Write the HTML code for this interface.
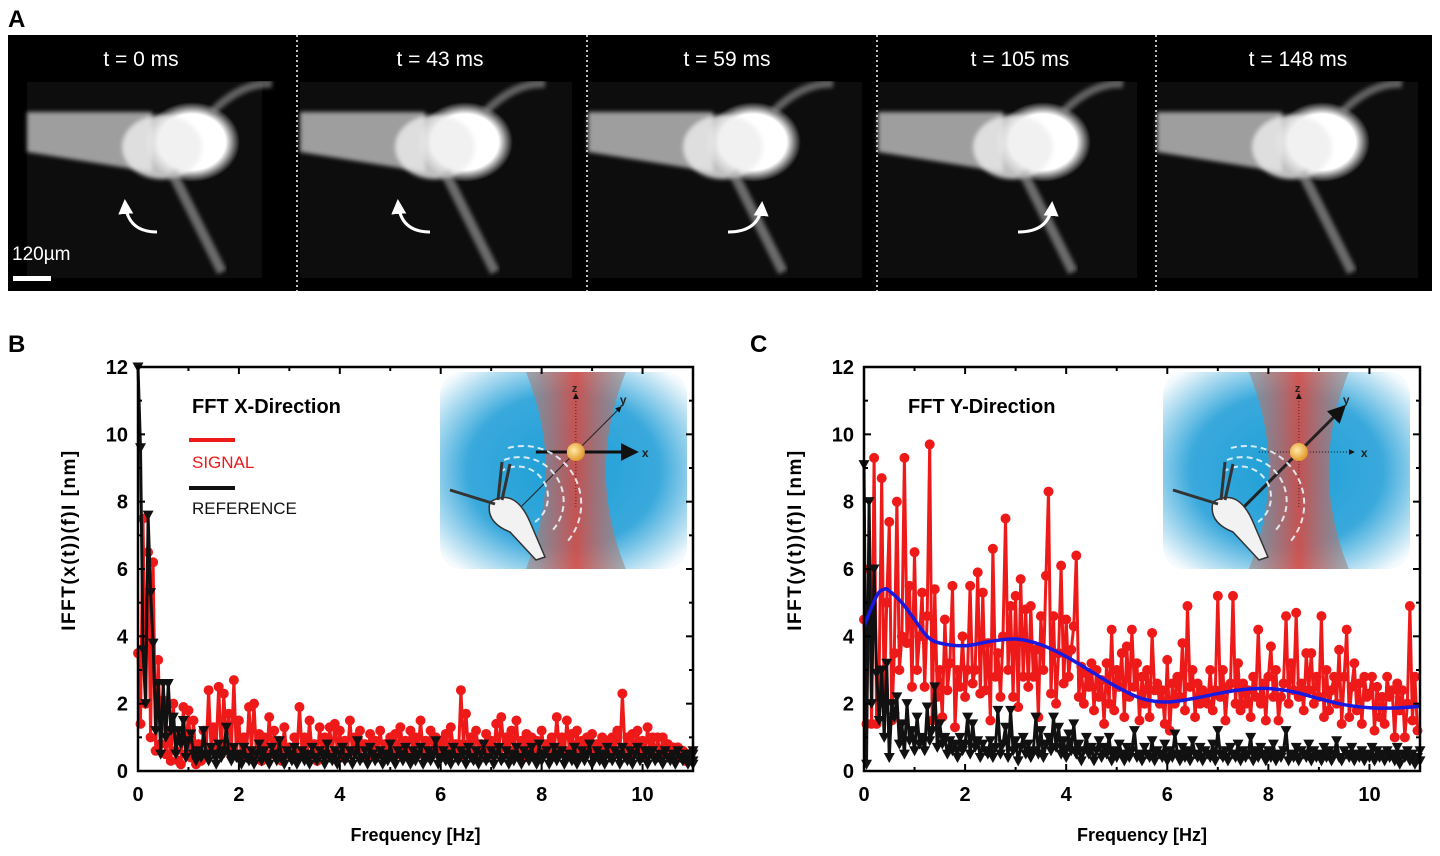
<!DOCTYPE html>
<html><head><meta charset="utf-8">
<style>
html,body{margin:0;padding:0;background:#fff;}
svg{display:block;font-family:"Liberation Sans",Arial,sans-serif;}
</style></head>
<body>
<svg id="fig" width="1440" height="856" viewBox="0 0 1440 856">
<defs>
  <radialGradient id="water" cx="50%" cy="50%" r="65%">
    <stop offset="0" stop-color="#1c9fd6"/><stop offset="0.6" stop-color="#3aa9dc"/><stop offset="1" stop-color="#f4fafd"/>
  </radialGradient>
  <linearGradient id="beam" x1="0" y1="0" x2="1" y2="0">
    <stop offset="0" stop-color="#9a8a88" stop-opacity="0.7"/><stop offset="0.5" stop-color="#e0443a"/><stop offset="1" stop-color="#9a8a88" stop-opacity="0.7"/>
  </linearGradient>
  <radialGradient id="bead" cx="40%" cy="40%" r="60%"><stop offset="0" stop-color="#ffe9a8"/><stop offset="1" stop-color="#e29a2a"/></radialGradient>
  <radialGradient id="glow" cx="50%" cy="50%" r="50%"><stop offset="0" stop-color="#fff"/><stop offset="0.7" stop-color="#fff"/><stop offset="1" stop-color="#fff" stop-opacity="0"/></radialGradient>
  <filter id="blur2"><feGaussianBlur stdDeviation="2"/></filter>
  <marker id="ah" markerWidth="6" markerHeight="6" refX="5" refY="3" orient="auto"><path d="M0,0 L6,3 L0,6z" fill="#111"/></marker>
  <marker id="ahw" markerWidth="5" markerHeight="5" refX="4" refY="2.5" orient="auto"><path d="M0,0 L5,2.5 L0,5z" fill="#fff"/></marker>
</defs>

<text x="8" y="27" font-size="24" font-weight="bold">A</text>
<rect x="8" y="35" width="1424" height="256" fill="#000"/>
<g id="frames"></g>

<text x="8" y="352" font-size="24" font-weight="bold">B</text>
<g id="chartB"></g>
<text x="750" y="352" font-size="24" font-weight="bold">C</text>
<g id="chartC"></g>
</svg>

<script>
const NS="http://www.w3.org/2000/svg";
function mk(tag,attrs,parent){const e=document.createElementNS(NS,tag);for(const k in attrs)e.setAttribute(k,attrs[k]);if(parent)parent.appendChild(e);return e;}

const DF = 0.05;
const xTicks=[0,2,4,6,8,10];
const yTicks=[0,2,4,6,8,10,12];
const frameLabels=["t = 0 ms","t = 43 ms","t = 59 ms","t = 105 ms","t = 148 ms"];

const signalX=[3.5,1.4,7.5,2.0,6.5,1.0,6.2,0.6,3.3,0.8,2.1,0.5,1.2,0.3,2.0,0.6,0.3,0.2,1.9,0.5,1.8,0.4,1.5,0.2,0.8,0.3,1.2,0.5,2.4,0.6,1.3,0.7,2.5,0.5,2.3,0.8,1.7,0.6,2.7,0.5,1.5,0.4,1.0,0.5,1.9,0.6,2.0,0.4,1.1,0.3,1.0,0.4,1.6,0.5,1.2,0.6,0.9,0.3,1.3,0.5,0.7,0.4,1.0,0.5,1.9,0.6,1.0,0.4,1.5,0.5,0.8,0.3,1.3,0.6,1.0,0.4,1.3,0.5,1.4,0.6,1.2,0.4,0.9,0.5,1.5,0.6,1.0,0.5,1.2,0.7,0.8,0.4,1.1,0.5,0.9,0.6,1.2,0.5,0.8,0.4,1.0,0.6,1.1,0.5,1.3,0.7,0.9,0.5,1.2,0.6,1.0,0.5,1.5,0.6,0.9,0.4,1.2,0.6,1.0,0.5,0.9,0.6,1.1,0.5,1.3,0.7,0.8,0.4,2.4,0.8,1.7,0.6,1.0,0.5,1.2,0.6,0.8,0.4,1.1,0.6,0.9,0.5,1.4,0.6,1.6,0.7,1.0,0.5,1.2,0.6,1.5,0.5,0.9,0.4,1.1,0.6,1.0,0.5,0.9,0.4,1.2,0.6,0.8,0.5,1.0,0.6,1.6,0.7,1.0,0.5,1.5,0.6,1.1,0.5,1.2,0.6,0.9,0.5,1.0,0.6,1.1,0.5,0.8,0.4,1.0,0.6,0.9,0.5,1.0,0.6,1.2,0.5,2.3,0.7,1.0,0.5,1.1,0.6,1.2,0.5,0.9,0.4,1.3,0.6,1.0,0.5,1.0,0.4,1.0,0.5,0.8,0.4,0.7,0.5,0.7,0.4,0.6,0.3,0.5,0.4];
const referenceX=[12,9.6,3.6,2.0,7.6,5.3,3.8,1.2,2.6,0.5,2.6,1.0,2.6,1.2,1.6,0.5,1.2,0.8,1.5,0.4,0.9,1.1,0.5,0.3,0.6,0.4,1.2,0.5,0.3,0.7,0.5,0.2,0.8,0.4,0.6,1.3,0.5,0.3,0.7,0.4,0.5,0.2,0.7,0.4,0.3,0.6,0.2,0.5,0.8,0.3,0.6,0.4,0.2,0.7,0.5,0.3,0.9,0.4,0.2,0.6,0.5,0.3,0.7,0.2,0.4,0.6,0.3,0.5,0.2,0.7,0.4,0.3,0.6,0.5,0.2,0.8,0.4,0.3,0.6,0.2,0.5,0.7,0.3,0.4,0.6,0.2,0.5,0.9,0.3,0.4,0.6,0.2,0.7,0.5,0.3,0.4,0.6,0.2,0.5,0.3,0.8,0.4,0.2,0.6,0.5,0.3,0.7,0.4,0.2,0.6,0.3,0.5,0.7,0.2,0.4,0.6,0.3,0.5,0.9,0.2,0.4,0.6,0.3,0.5,0.2,0.7,0.4,0.3,0.6,0.5,0.2,0.7,0.4,0.3,0.6,0.2,0.5,0.8,0.3,0.4,0.6,0.2,0.5,0.7,0.3,0.4,0.6,0.2,0.5,0.3,0.7,0.4,0.2,0.6,0.5,0.3,0.7,0.4,0.2,0.8,0.3,0.5,0.6,0.2,0.4,0.7,0.3,0.5,0.6,0.2,0.4,0.5,0.3,0.7,0.2,0.4,0.6,0.3,0.5,0.8,0.2,0.4,0.6,0.3,0.5,0.2,0.7,0.4,0.3,0.6,0.5,0.2,0.7,0.4,0.3,0.6,0.2,0.5,0.7,0.3,0.4,0.6,0.2,0.5,0.6,0.3,0.4,0.5,0.2,0.6,0.4,0.3,0.5,0.2,0.6,0.4,0.3,0.5,0.2,0.4,0.6,0.3,0.5,0.2];
const signalY=[4.5,1.4,6,1.4,9.3,1.4,3,8.7,2,5,7.4,1.5,3.5,8.0,3,4,9.3,3.8,5.5,2.5,6.5,3,4,5.3,2.5,4.6,9.7,1.5,5.4,2.2,3,1.6,4.5,2.4,3.2,5.5,1.3,3,2.5,4,2.2,3,5.5,2.6,3,5.9,2.3,5.3,2.4,3.8,1.5,6.6,2.8,3.5,2.2,4.0,7.5,3,4.9,2.2,5.2,1.9,5.7,2.8,4.8,2.5,4.9,2.8,3.6,1.6,4.6,3,5.8,8.3,2.3,4.6,2.0,3.5,6.1,2.6,4.5,2.8,3.6,4.3,6.4,2.2,3.1,2.0,2.9,2.5,3.2,1.8,3.0,2.2,2.7,1.4,3.2,2.0,4.2,1.8,3.0,2.5,3.5,1.6,3.7,2.2,4.2,2.5,3.2,1.5,2.8,2.0,3.0,1.6,4.1,2.4,2.6,2.0,2.4,1.4,3.3,1.2,2.6,2.0,2.8,2.2,3.8,1.8,4.9,2.5,3.0,1.6,2.6,2.0,2.4,2.2,2.0,3.0,1.8,2.4,5.2,2.2,3.0,1.5,2.5,2.6,5.2,2.0,3.2,1.8,2.6,2.0,2.4,1.6,2.8,2.2,4.2,2.0,2.6,1.5,2.8,3.7,2.2,3.0,1.5,2.2,2.6,4.6,2.0,3.2,2.4,4.7,2.2,2.6,1.8,3.5,2.4,3.5,2.0,2.8,2.2,4.6,1.6,3.0,1.8,2.4,2.8,2.0,3.6,1.4,2.8,4.2,1.6,2.5,3.2,1.8,2.6,1.4,2.8,2.2,2.3,2.8,1.2,2.5,1.6,2.2,1.4,2.8,2.2,2.4,1.0,2.6,1.8,2.4,1.0,2.0,4.9,1.5,2.8,1.2];
const referenceY=[9.1,0.2,8.0,2.0,6.0,2.9,1.5,3.0,1.0,3.2,0.4,2.0,1.6,2.2,0.8,1.4,0.5,2.0,0.9,1.2,0.6,1.6,0.8,1.0,0.6,1.9,0.9,1.2,2.5,0.7,1.4,0.8,1.0,0.5,0.9,0.6,0.8,0.4,1.0,0.6,0.8,1.6,0.5,1.4,0.7,0.9,0.4,0.8,0.6,0.5,0.9,0.4,0.7,1.8,0.5,0.8,1.3,0.4,1.8,0.6,0.9,0.3,0.7,1.0,0.5,0.8,0.4,0.6,1.6,0.5,1.2,0.4,0.8,1.0,0.6,1.6,0.7,1.3,0.5,0.9,0.4,1.1,0.6,1.4,0.5,0.8,0.3,0.6,1.0,0.5,0.7,0.3,0.6,0.9,0.4,0.7,0.5,1.0,0.3,0.6,0.4,0.8,0.5,0.3,0.7,0.4,0.6,1.2,0.4,0.5,0.3,0.7,0.5,0.4,0.9,0.3,0.6,0.5,0.4,0.8,0.3,0.6,0.4,1.1,0.5,0.3,0.7,0.4,0.6,0.3,0.9,0.5,0.4,0.7,0.3,0.6,0.5,0.4,0.8,0.3,1.2,0.5,0.4,0.6,0.3,0.7,0.5,0.4,0.8,0.3,0.6,0.4,0.5,1.0,0.3,0.6,0.4,0.7,0.5,0.3,0.6,0.4,0.8,0.3,0.5,0.4,0.6,1.2,0.3,0.5,0.4,0.7,0.3,0.6,0.5,0.4,0.8,0.3,0.6,0.4,0.5,0.3,0.7,0.4,0.6,0.3,0.5,0.9,0.4,0.3,0.6,0.5,0.4,0.7,0.3,0.5,0.4,0.6,0.3,0.5,0.4,0.7,0.3,0.6,0.4,0.5,0.3,0.6,0.4,0.5,0.3,0.7,0.2,0.5,0.4,0.6,0.3,0.5,0.2,0.4,0.6,0.3];
const fitFreq=[0,0.25,0.4,0.5,0.75,1,1.25,1.5,2,2.5,3,3.5,4,4.5,5,5.5,6,6.5,7,7.5,8,8.5,9,9.5,10,10.5,11];
const fitVal=[4.3,5.2,5.4,5.35,5.0,4.5,4.0,3.8,3.72,3.85,3.92,3.75,3.4,2.95,2.5,2.15,2.05,2.15,2.3,2.42,2.45,2.35,2.15,1.97,1.88,1.87,1.92];

const fg=document.getElementById('frames');
const frameBoxes=[[27,82,235,196],[300,82,272,196],[588,82,274,196],[878,82,259,196],[1157,82,261,196]];
const labelX=[141,440,727,1020,1298];
const arrowDir=[-1,-1,1,1,0];
frameBoxes.forEach((b,i)=>{
  const g=mk('g',{},fg);
  
  
  mk('rect',{x:b[0],y:b[1],width:b[2],height:b[3],fill:'#0d0d0d'},g);
  const cx=b[0]+165, cy=b[1]+60;
  mk('path',{d:`M${b[0]} ${b[1]+30} L${cx-40} ${cy-30} L${cx-40} ${cy+30} L${b[0]} ${b[1]+70}Z`,fill:'#cfcfcf',opacity:0.75,filter:'url(#blur2)'},g);
  mk('ellipse',{cx:cx,cy:cy,rx:48,ry:40,fill:'url(#glow)'},g);
  mk('ellipse',{cx:cx-30,cy:cy+5,rx:40,ry:32,fill:'#eee',opacity:0.8,filter:'url(#blur2)'},g);
  mk('path',{d:`M${cx-20} ${cy+30} Q${cx+10} ${cy+90} ${cx+30} ${cy+130}`,stroke:'#aaa','stroke-width':10,fill:'none',opacity:0.6,filter:'url(#blur2)'},g);
  mk('path',{d:`M${cx+20} ${cy-30} Q${cx+50} ${cy-60} ${cx+80} ${cy-58}`,stroke:'#999','stroke-width':8,fill:'none',opacity:0.6,filter:'url(#blur2)'},g);
  if(arrowDir[i]){
    const ax=b[0]+(arrowDir[i]<0?100:150), ay=b[1]+150;
    const d=arrowDir[i]<0?`M${ax+30} ${ay} Q${ax} ${ay} ${ax-2} ${ay-30}`:`M${ax-10} ${ay} Q${ax+22} ${ay} ${ax+24} ${ay-28}`;
    mk('path',{d:d,stroke:'#fff','stroke-width':3,fill:'none','marker-end':'url(#ahw)'},g);
  }
  const t=mk('text',{x:labelX[i],y:66,'font-size':21,fill:'#fff','text-anchor':'middle'},fg);
  
  
  t.textContent=frameLabels[i];
});
[297,587,877,1156].forEach(x=>{
  const l=mk('line',{x1:x,y1:35,x2:x,y2:291,stroke:'#fff','stroke-width':1.5,'stroke-dasharray':'2 3'},fg);
  
  
});
const sb=mk('text',{x:12,y:260,'font-size':19,fill:'#fff'},fg);


sb.textContent='120µm';
const sbl=mk('rect',{x:13,y:276,width:38,height:5,fill:'#fff'},fg);



function inset(g,x,y,w,h,arrowY){
  const ig=mk('g',{},g);
  
  
  mk('rect',{x:x,y:y,width:w,height:h,rx:22,fill:'url(#water)'},ig);
  const cx=x+w*0.55;
  mk('path',{d:`M${cx-50} ${y} Q${cx-10} ${y+h/2} ${cx-50} ${y+h} L${cx+50} ${y+h} Q${cx+10} ${y+h/2} ${cx+50} ${y}Z`,fill:'url(#beam)',opacity:0.85},ig);
  const by=y+80;
  mk('line',{x1:cx,y1:y+135,x2:cx,y2:y+22,stroke:'#333','stroke-width':1,'stroke-dasharray':'1 2','marker-end':'url(#ah)'},ig);
  mk('line',{x1:cx-60,y1:by+60,x2:cx+45,y2:by-45,stroke:'#222','stroke-width':arrowY?3:1,'marker-end':'url(#ah)'},ig);
  mk('line',{x1:cx-40,y1:by,x2:cx+ (arrowY?55:60),y2:by,stroke:'#111','stroke-width':arrowY?1:3,'stroke-dasharray':arrowY?'1 2':'','marker-end':'url(#ah)'},ig);
  mk('circle',{cx:cx,cy:by,r:9,fill:'url(#bead)'},ig);
  const lx=mk('text',{x:cx+(arrowY?62:66),y:by+5,'font-size':12,'font-weight':'bold',fill:'#222'},ig);lx.textContent='x';
  const ly=mk('text',{x:cx+44,y:by-48,'font-size':12,'font-weight':'bold',fill:'#222'},ig);ly.textContent='y';
  const lz=mk('text',{x:cx-4,y:y+20,'font-size':11,'font-weight':'bold',fill:'#222'},ig);lz.textContent='z';
  for(let k=0;k<3;k++){mk('path',{d:`M${x+60+k*4} ${y+100-k*12} A${30+k*14} ${30+k*14} 0 0 1 ${x+95+k*16} ${y+150+k*10}`,stroke:'#e8f4fb','stroke-width':2,fill:'none','stroke-dasharray':'6 4',opacity:0.9},ig);}
  mk('path',{d:`M${x+50} ${y+130} Q${x+75} ${y+115} ${x+90} ${y+150} L${x+105} ${y+185} L${x+96} ${y+188} L${x+70} ${y+160} Q${x+45} ${y+150} ${x+50} ${y+130}Z`,fill:'#f2f2f2',stroke:'#333','stroke-width':1.5},ig);
  mk('path',{d:`M${x+55} ${y+132} L${x+10} ${y+118} M${x+58} ${y+128} L${x+62} ${y+90} M${x+62} ${y+128} L${x+70} ${y+92}`,stroke:'#333','stroke-width':3,fill:'none'},ig);
}

function chart(gid,cfg){
  const g=document.getElementById(gid);
  const L=cfg.left,R=cfg.right,T=367,B=771;
  const xs=f=>L+f/11*(R-L);
  const ys=v=>B-v/12*(B-T);
  inset(g,cfg.insetX,372,247,197,cfg.arrowY);
  function series(vals,color,marker,name){
    const sg=mk('g',{},g);
    
    
    const pts=vals.map((v,i)=>xs(Math.min(i*DF,11)).toFixed(1)+','+ys(v).toFixed(1)).join(' ');
    mk('polyline',{points:pts,fill:'none',stroke:color,'stroke-width':3,'stroke-linejoin':'round'},sg);
    vals.forEach((v,i)=>{
      const x=xs(Math.min(i*DF,11)),y=ys(v);
      let m;
      if(marker==='circle') m=mk('circle',{cx:x,cy:y,r:5,fill:color},sg);
      else m=mk('path',{d:`M${x-5.5} ${y-4.5} L${x+5.5} ${y-4.5} L${x} ${y+5.5}Z`,fill:color},sg);
      
      
    });
  }
  series(cfg.sig,'#ee1a1a','circle','signal-series');
  series(cfg.ref,'#111','tri','reference-series');
  if(cfg.fit){
    const fp=fitFreq.map((f,i)=>[xs(f),ys(fitVal[i])]);
    let d='M'+fp[0][0]+' '+fp[0][1];
    for(let i=0;i<fp.length-1;i++){
      const p0=fp[Math.max(0,i-1)],p1=fp[i],p2=fp[i+1],p3=fp[Math.min(fp.length-1,i+2)];
      d+=` C${p1[0]+(p2[0]-p0[0])/6} ${p1[1]+(p2[1]-p0[1])/6} ${p2[0]-(p3[0]-p1[0])/6} ${p2[1]-(p3[1]-p1[1])/6} ${p2[0]} ${p2[1]}`;
    }
    const fl=mk('path',{d:d,fill:'none',stroke:'#1a1adf','stroke-width':3.5},g);
    
    
  }
  const fr=mk('rect',{x:L,y:T,width:R-L,height:B-T,fill:'none',stroke:'#000','stroke-width':2.5},g);
  
  
  for(let f=0;f<=11;f++){
    const x=xs(f),len=f%2===0?7:4;
    mk('line',{x1:x,y1:B,x2:x,y2:B-len,stroke:'#000','stroke-width':2},g);
    mk('line',{x1:x,y1:T,x2:x,y2:T+len,stroke:'#000','stroke-width':2},g);
  }
  for(let v=0;v<=12;v++){
    const y=ys(v),len=v%2===0?7:4;
    mk('line',{x1:L,y1:y,x2:L+len,y2:y,stroke:'#000','stroke-width':2},g);
    mk('line',{x1:R,y1:y,x2:R-len,y2:y,stroke:'#000','stroke-width':2},g);
  }
  xTicks.forEach(f=>{
    const t=mk('text',{x:xs(f),y:B+30,'font-size':20,'font-weight':'bold','text-anchor':'middle'},g);
    
    
    t.textContent=f;
  });
  yTicks.forEach(v=>{
    const t=mk('text',{x:L-10,y:ys(v)+7,'font-size':20,'font-weight':'bold','text-anchor':'end'},g);
    
    
    t.textContent=v;
  });
  const xt=mk('text',{x:(L+R)/2,y:841,'font-size':18,'font-weight':'bold','text-anchor':'middle'},g);
  
  
  xt.textContent='Frequency [Hz]';
  const yt=mk('text',{x:0,y:0,'font-size':19,'font-weight':'bold','text-anchor':'middle','letter-spacing':'1.5',transform:`translate(${L-63},540) rotate(-90)`},g);
  
  
  yt.textContent=cfg.ylabel;
  const tt=mk('text',{x:cfg.titleX,y:413,'font-size':20,'font-weight':'bold'},g);
  
  
  tt.textContent=cfg.title;
  if(cfg.legend){
    const lg=mk('g',{},g);
    
    
    mk('rect',{x:189,y:438,width:46,height:4,fill:'#ee1a1a'},lg);
    const s=mk('text',{x:192,y:468,'font-size':17,fill:'#ee1a1a'},lg);s.textContent='SIGNAL';
    
    
    mk('rect',{x:189,y:486,width:46,height:4,fill:'#111'},lg);
    const r=mk('text',{x:192,y:514,'font-size':17,fill:'#111'},lg);r.textContent='REFERENCE';
    
    
  }
}
chart('chartB',{left:138,right:693,insetX:440,sig:signalX,ref:referenceX,fit:false,legend:true,ylabel:'IFFT(x(t))(f)I [nm]',title:'FFT X-Direction',titleX:192,arrowY:false});
chart('chartC',{left:864,right:1420,insetX:1163,sig:signalY,ref:referenceY,fit:true,legend:false,ylabel:'IFFT(y(t))(f)I [nm]',title:'FFT Y-Direction',titleX:908,arrowY:true});
</script>
</body></html>
